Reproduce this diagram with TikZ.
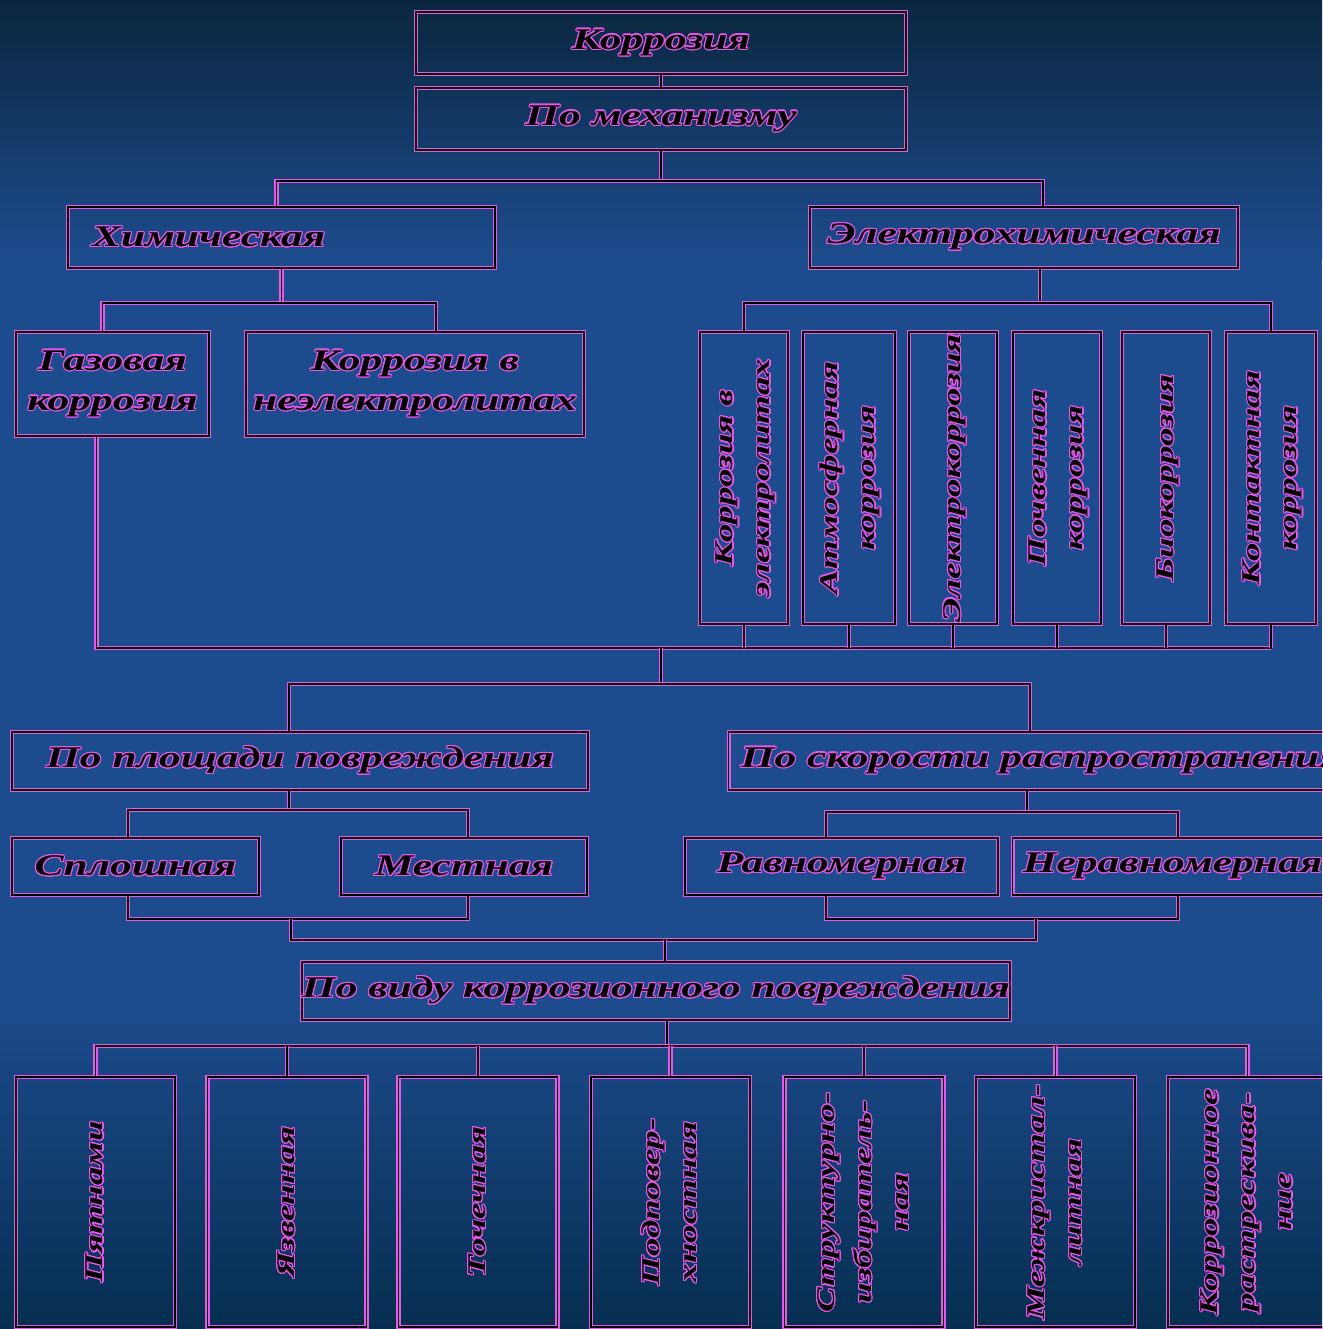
\documentclass[tikz,border=0pt]{standalone}
\usepackage{fontspec}
\setmainfont{Liberation Serif}[FakeStretch=1.45]
\usepackage{contour}
\contourlength{1.1pt}
\definecolor{boxpink}{RGB}{232,88,232}
\definecolor{bgtop}{RGB}{10,38,62}
\definecolor{bgmid}{RGB}{29,76,142}
\definecolor{bgbot}{RGB}{6,46,80}
\newcommand{\ct}[1]{\contour{boxpink}{#1}}
\newcommand{\vtext}[1]{\rotatebox{90}{\fontsize{25.5}{37}\selectfont\begin{tabular}{@{}c@{}}#1\end{tabular}}}
\begin{document}
\begin{tikzpicture}[x=1pt,y=-1pt,
	box/.style={draw=boxpink,double=black,double distance=1.3pt,line width=1.5pt,
		inner sep=0pt,font=\fontsize{30}{40}\selectfont\bfseries\itshape},
	link/.style={draw=boxpink,double=black,double distance=1.3pt,line width=1.5pt}]
	\clip (0,0) rectangle (1322,1329);
	% background
	\shade[top color=bgtop,bottom color=bgmid] (0,0) rectangle (1322,261);
	\fill[bgmid] (0,260) rectangle (1322,1001);
	\shade[top color=bgmid,bottom color=bgbot] (0,1000) rectangle (1322,1329);
	% top of the tree
	\node[box,minimum width=490,minimum height=62] (korr) at (661,43) {\ct{Коррозия}};
	\node[box,minimum width=490,minimum height=62] (mech) at (661,119) {\ct{По механизму}};
	\node[box,minimum width=427,minimum height=61,text width=379,align=left] (chem) at (281.5,237.5) {\ct{Химическая}};
	\node[box,minimum width=428,minimum height=61] (elec) at (1024,237.5) {\ct{Электрохимическая}};
	\node[box,minimum width=193,minimum height=104,align=center] (gas) at (112.5,384) {\ct{Газовая}\\\ct{коррозия}};
	\node[box,minimum width=338,minimum height=104,align=center] (nonel) at (415,384) {\ct{Коррозия в}\\\ct{неэлектролитах}};
	\node[box,minimum width=88,minimum height=292] (ea) at (744,478) {\vtext{\ct{Коррозия в}\\\ct{электролитах}}};
	\node[box,minimum width=92,minimum height=292] (eb) at (849,478) {\vtext{\ct{Атмосферная}\\\ct{коррозия}}};
	\node[box,minimum width=88,minimum height=292] (ec) at (953,478) {\vtext{\ct{Электрокоррозия}}};
	\node[box,minimum width=88,minimum height=292] (ed) at (1057,478) {\vtext{\ct{Почвенная}\\\ct{коррозия}}};
	\node[box,minimum width=88,minimum height=292] (ee) at (1166,478) {\vtext{\ct{Биокоррозия}}};
	\node[box,minimum width=90,minimum height=292] (ef) at (1271,478) {\vtext{\ct{Контактная}\\\ct{коррозия}}};
	% by damage
	\node[box,minimum width=576,minimum height=58] (area) at (300,761) {\ct{По площади повреждения}};
	\node[box,minimum height=58,inner xsep=12pt,anchor=west] (speed) at (728,761) {\ct{По скорости распространения}};
	\node[box,minimum width=247,minimum height=57] (solid) at (135.5,866.5) {\ct{Сплошная}};
	\node[box,minimum width=246,minimum height=57] (local) at (464,866.5) {\ct{Местная}};
	\node[box,minimum width=313,minimum height=57] (uniform) at (841.5,866.5) {\ct{Равномерная}};
	\node[box,minimum height=57,inner xsep=10pt,anchor=west] (nonuni) at (1012,866.5) {\ct{Неравномерная}};
	\node[box,minimum width=708,minimum height=58] (kind) at (656,991) {\ct{По виду коррозионного повреждения}};
	\foreach \i/\cx/\txt in {1/95.5/{\ct{Пятнами}},2/287/{\ct{Язвенная}},3/478/{\ct{Точечная}},
			4/670.5/{\ct{Подповер-}\\\ct{хностная}},5/864/{\ct{Структурно-}\\\ct{избиратель-}\\\ct{ная}},
			6/1055.5/{\ct{Межкристал-}\\\ct{литная}},7/1247.5/{\ct{Коррозионное}\\\ct{растрескива-}\\\ct{ние}}}
		\node[box,minimum width=159,minimum height=250] (b\i) at (\cx,1202) {\vtext{\txt}};
	% connectors
	\coordinate (j1) at (661,181);
	\draw[link] (korr) -- (mech);
	\draw[link] (mech.south) -- (j1);
	\draw[link] ([xshift=-5]chem.north) |- (j1) -| ([xshift=19]elec.north);
	\coordinate (j2) at (281.5,303);
	\draw[link] (chem.south) -- (j2);
	\draw[link] ([xshift=-10]gas.north) |- (j2) -| ([xshift=21]nonel.north);
	\coordinate (j3) at (1040,303);
	\draw[link] (elec.south -| j3) -- (j3);
	\draw[link] (ea.north) |- (j3) -| (ef.north);
	\coordinate (j4) at (661,648);
	\draw[link] ([xshift=-16]gas.south) |- (ef.south |- j4);
	\foreach \n in {ea,eb,ec,ed,ee,ef}
		\draw[link] (\n.south) -- (\n.south |- j4);
	\coordinate (j5) at (661,684);
	\draw[link] (j4) -- (j5);
	\draw[link] ([xshift=-11]area.north) |- (j5) -| (speed.north -| 1030,0);
	\coordinate (j6) at (289,810);
	\draw[link] (area.south -| j6) -- (j6);
	\draw[link] ([xshift=-7.5]solid.north) |- (j6) -| ([xshift=4]local.north);
	\coordinate (j7) at (291,919);
	\draw[link] ([xshift=-7.5]solid.south) |- (j7) -| ([xshift=4]local.south);
	\coordinate (j10) at (1027,812);
	\draw[link] (speed.south -| j10) -- (j10);
	\draw[link] (uniform.north -| 826,0) |- (j10) -| (nonuni.north -| 1178,0);
	\coordinate (j8) at (1036,919);
	\draw[link] (uniform.south -| 826,0) |- (j8) -| (nonuni.south -| 1178,0);
	\coordinate (j9) at (665,940);
	\draw[link] (j7) |- (j9) -| (j8);
	\draw[link] (j9) -- (kind.north -| j9);
	\coordinate (j11) at (667,1046);
	\draw[link] (kind.south -| j11) -- (j11);
	\draw[link] (b1.north) |- (j11) -| (b7.north);
	\foreach \i in {2,...,6}
		\draw[link] (b\i.north) -- (b\i.north |- j11);
\end{tikzpicture}
\end{document}
